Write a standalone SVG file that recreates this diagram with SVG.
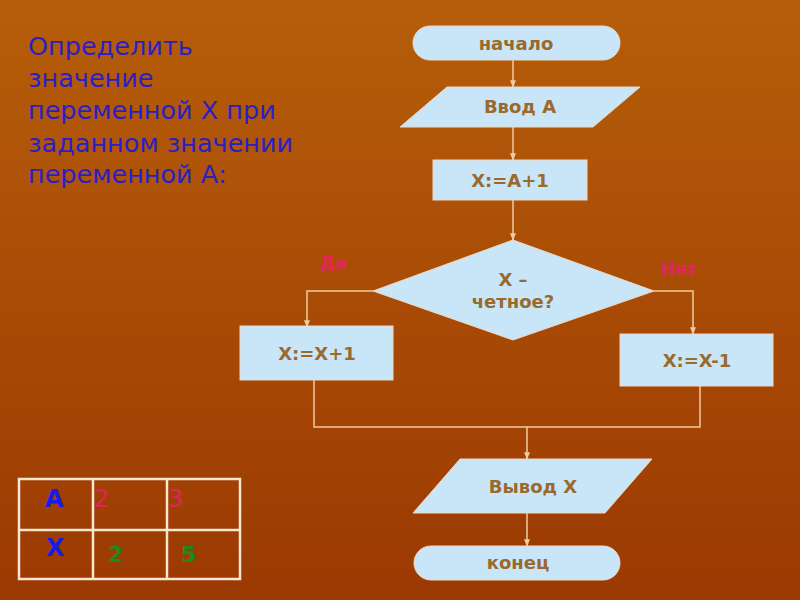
<svg xmlns="http://www.w3.org/2000/svg" width="800" height="600" viewBox="0 0 800 600">
<defs>
<linearGradient id="bg" x1="0" y1="0" x2="0" y2="1">
<stop offset="0" stop-color="#b65e0a"/>
<stop offset="1" stop-color="#9b3902"/>
</linearGradient>
<marker id="ar" viewBox="0 0 10 10" refX="9" refY="5" markerWidth="5" markerHeight="5" orient="auto">
<path d="M0,1 L10,5 L0,9 z" fill="#f2caa0"/>
</marker>
</defs>
<style>
.sh{fill:#c9e5f8;stroke:#ecd8c4;stroke-width:1}
.nt{font-family:"DejaVu Sans",Verdana,sans-serif;font-weight:bold;font-size:18px;fill:#9a6a2c;text-anchor:middle}
.ln{fill:none;stroke:#f2caa0;stroke-width:1.5}
.ttl{font-family:"DejaVu Sans",Verdana,sans-serif;font-size:25.5px;fill:#2b1fc4}
.lbl{font-family:"DejaVu Sans",Verdana,sans-serif;font-weight:bold;font-size:17px;fill:#e8245c}
.tb{fill:none;stroke:#f6e6d2;stroke-width:2.5}
</style>
<rect width="800" height="600" fill="url(#bg)"/>
<g id="title">
<text class="ttl" x="28" y="55">Определить</text>
<text class="ttl" x="28" y="87">значение</text>
<text class="ttl" x="28" y="119">переменной X при</text>
<text class="ttl" x="28" y="152">заданном значении</text>
<text class="ttl" x="28" y="183">переменной А:</text>
</g>
<g id="connectors">
<line class="ln" x1="513" y1="60" x2="513" y2="87" marker-end="url(#ar)"/>
<line class="ln" x1="513" y1="127" x2="513" y2="160" marker-end="url(#ar)"/>
<line class="ln" x1="513" y1="200" x2="513" y2="240" marker-end="url(#ar)"/>
<polyline class="ln" points="373,291 307,291 307,327" marker-end="url(#ar)"/>
<polyline class="ln" points="654,291 693,291 693,334" marker-end="url(#ar)"/>
<polyline class="ln" points="314,380 314,427 700,427 700,386"/>
<line class="ln" x1="527" y1="427" x2="527" y2="459" marker-end="url(#ar)"/>
<line class="ln" x1="527" y1="513" x2="527" y2="546" marker-end="url(#ar)"/>
</g>
<g id="start">
<rect class="sh" x="413" y="26" width="207" height="34" rx="17"/>
<text class="nt" x="516" y="50">начало</text>
</g>
<g id="input">
<polygon class="sh" points="447,87 640,87 593,127 400,127"/>
<text class="nt" x="520" y="113">Ввод А</text>
</g>
<g id="assign">
<rect class="sh" x="433" y="160" width="154" height="40"/>
<text class="nt" x="510" y="187">X:=A+1</text>
</g>
<g id="decision">
<polygon class="sh" points="513,240 654,291 513,340 373,291"/>
<text class="nt" x="513" y="286">X –</text>
<text class="nt" x="513" y="308">четное?</text>
</g>
<text class="lbl" x="320" y="269">Да</text>
<text class="lbl" x="661" y="275">Нет</text>
<g id="yes">
<rect class="sh" x="240" y="326" width="153" height="54"/>
<text class="nt" x="317" y="360">X:=X+1</text>
</g>
<g id="no">
<rect class="sh" x="620" y="334" width="153" height="52"/>
<text class="nt" x="697" y="367">X:=X-1</text>
</g>
<g id="output">
<polygon class="sh" points="460,459 652,459 605,513 413,513"/>
<text class="nt" x="533" y="493">Вывод X</text>
</g>
<g id="end">
<rect class="sh" x="414" y="546" width="206" height="34" rx="17"/>
<text class="nt" x="518" y="569">конец</text>
</g>
<g id="table">
<rect class="tb" x="19" y="479" width="221" height="100"/>
<line class="tb" x1="93" y1="479" x2="93" y2="579"/>
<line class="tb" x1="167" y1="479" x2="167" y2="579"/>
<line class="tb" x1="19" y1="530" x2="240" y2="530"/>
<text x="45" y="507" font-family="DejaVu Sans,sans-serif" font-weight="bold" font-size="24" fill="#1a1ae8">А</text>
<text x="94" y="507" font-family="DejaVu Sans,sans-serif" font-size="24" fill="#e0245a">2</text>
<text x="168" y="507" font-family="DejaVu Sans,sans-serif" font-size="24" fill="#e0245a">3</text>
<text x="46" y="556" font-family="DejaVu Sans,sans-serif" font-weight="bold" font-size="24" fill="#1a1ae8">X</text>
<text x="108" y="562" font-family="DejaVu Sans,sans-serif" font-weight="bold" font-size="22" fill="#1e8a1e">2</text>
<text x="181" y="562" font-family="DejaVu Sans,sans-serif" font-weight="bold" font-size="22" fill="#1e8a1e">5</text>
</g>
</svg>
